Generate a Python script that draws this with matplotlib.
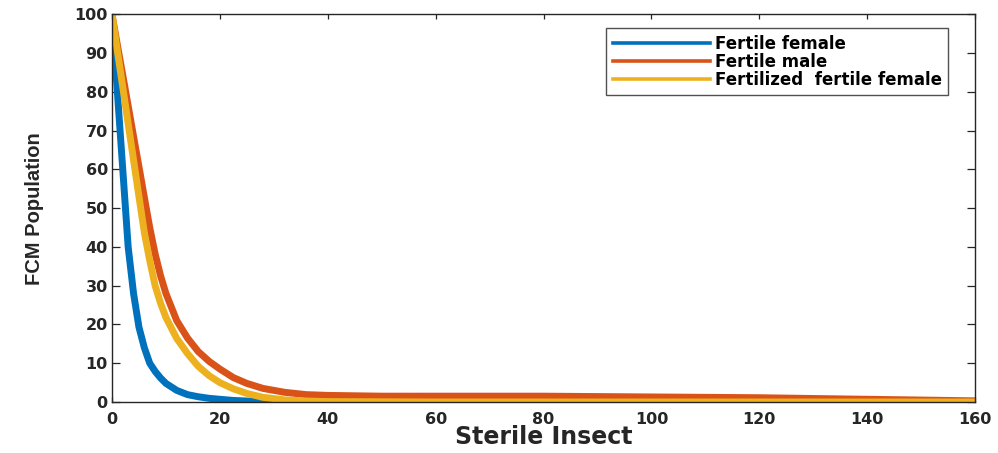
import matplotlib
matplotlib.use("Agg")
import matplotlib.pyplot as plt

# x grid (Sterile Insect)
x = [0, 1, 2, 3, 4, 5, 6, 7, 8, 9, 10, 12, 14, 16, 18, 20, 22.5, 25, 28, 32, 36, 40,
     50, 60, 70, 80, 90, 100, 110, 120, 130, 140, 150, 160]

fertile_female = [100, 80, 60, 40, 28, 19.3, 14, 10, 7.9, 6.2, 4.8, 3.0, 1.9, 1.35, 0.95, 0.7,
                  0.4, 0.25, 0.15, 0.05, 0, 0, 0, 0, 0, 0, 0, 0, 0, 0, 0, 0, 0, 0]

fertile_male = [100, 92.1, 84.3, 76.4, 68.5, 60.7, 52.8, 45, 38.2, 32.6, 28, 21, 16.5, 13, 10.5,
                8.5, 6.3, 4.8, 3.5, 2.5, 1.9, 1.7, 1.5, 1.5, 1.5, 1.5, 1.4, 1.3, 1.2, 1.1,
                0.9, 0.7, 0.5, 0.3]

fertilized_female = [100, 90.6, 81.2, 71.8, 62.4, 53, 43.7, 36.5, 30, 25.5, 21.8, 16.4, 12.5,
                     9.2, 6.8, 5.0, 3.4, 2.2, 1.2, 0.55, 0.25, 0.1, 0.05, 0, 0, 0, 0, 0, 0, 0,
                     0, 0, 0, 0]

labels = ["Fertile female", "Fertile male", "Fertilized  fertile female"]
colors = ["#0072BD", "#D95319", "#EDB120"]

xticks = [0, 20, 40, 60, 80, 100, 120, 140, 160]
yticks = [0, 10, 20, 30, 40, 50, 60, 70, 80, 90, 100]

fig = plt.figure(figsize=(9.98, 4.53), dpi=100)
ax = fig.add_axes([0.1122, 0.1126, 0.8648, 0.8558])

series = [fertile_female, fertile_male, fertilized_female]
for ys, c, lab in zip(series, colors, labels):
    ax.plot(x, ys, color=c, lw=5.0, label=lab, solid_capstyle="butt")

ax.set_xlim(0, 160)
ax.set_ylim(0, 100)
ax.set_xticks(xticks)
ax.set_yticks(yticks)

tick_col = "#262626"
for sp in ax.spines.values():
    sp.set_color(tick_col)
    sp.set_linewidth(1.0)
ax.tick_params(axis="both", direction="in", top=True, right=True, colors=tick_col,
               labelsize=11.5, width=0.9)
ax.tick_params(axis="y", length=6, pad=3)
ax.tick_params(axis="x", length=3.6, pad=7)
for t in ax.get_xticklabels() + ax.get_yticklabels():
    t.set_fontweight("bold")
    t.set_color(tick_col)

ax.set_xlabel("Sterile Insect", fontsize=17, fontweight="bold", color=tick_col, labelpad=-1)
ax.set_ylabel("FCM Population", fontsize=14.5, family="Liberation Sans", fontweight="bold",
              color=tick_col, labelpad=22)

handles = [plt.Line2D([], [], color=c, lw=2.6) for c in colors]
leg = ax.legend(handles, labels, loc="upper right", bbox_to_anchor=(0.969, 0.965),
                prop={"weight": "bold", "size": 12}, frameon=True, fancybox=False,
                handlelength=5.8, handletextpad=0.3, labelspacing=0.0,
                borderpad=0.4, borderaxespad=0)
leg.get_frame().set_edgecolor(tick_col)
leg.get_frame().set_linewidth(1.0)

fig.savefig("out.png", dpi=100)
